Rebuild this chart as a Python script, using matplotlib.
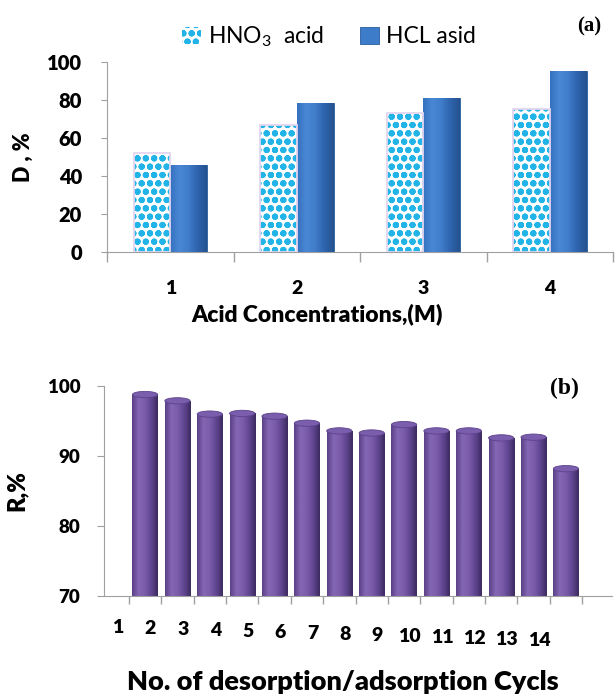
import numpy as np
import matplotlib
matplotlib.use('Agg')
import matplotlib.pyplot as plt
from matplotlib.transforms import blended_transform_factory
from matplotlib.colors import LinearSegmentedColormap
from matplotlib.patches import Ellipse

plt.rcParams['font.family'] = ['Lato', 'DejaVu Sans']
plt.rcParams['mathtext.fontset'] = 'custom'
plt.rcParams['mathtext.rm'] = 'Lato'
plt.rcParams['hatch.linewidth'] = 2.1

# ---- data (a)
conc = [1, 2, 3, 4]
conc_labels = ['1', '2', '3', '4']
hno3 = [52, 67, 73, 75]
hcl = [46, 78.5, 81, 95]
# ---- data (b)
cycles = list(range(1, 15))
cycle_labels = [str(c) for c in cycles]
recovery = [98.8, 97.9, 96.0, 96.1, 95.7, 94.7, 93.6, 93.3, 94.5, 93.6, 93.6, 92.6, 92.7, 88.2]

W = 'heavy'

fig = plt.figure(figsize=(6.15, 6.97), dpi=100)

grad = np.linspace(0, 1, 128).reshape(1, -1)


def shade(ax, patches, cmap):
    for p in patches:
        x0, y0 = p.get_x(), p.get_y()
        w, h = p.get_width(), p.get_height()
        im = ax.imshow(grad, extent=[x0, x0 + w, y0, y0 + h], cmap=cmap,
                       aspect='auto', zorder=p.get_zorder() + 0.1,
                       interpolation='bicubic')
        im.set_clip_path(p)


blue_cmap = LinearSegmentedColormap.from_list(
    'blue', ['#3470BD', '#4A88D6', '#3F7CC9', '#2E63AD', '#24528F'])
purple_cmap = LinearSegmentedColormap.from_list(
    'purple', ['#5A3F85', '#8466B5', '#7A5CAB', '#5F4590', '#3C2A5E'])

# ================= (a) =================
ax1 = fig.add_axes([0.174, 0.6385, 0.823, 0.2726])
x = np.array(conc, dtype=float)
w = 0.29
b_h = ax1.bar(x - w / 2, hno3, w, facecolor='white', edgecolor='#22B4E6',
              hatch='oo', linewidth=0, zorder=2, label=r'HNO$_\mathregular{3}$  acid')
ax1.bar(x - w / 2, hno3, w, facecolor='none', edgecolor='#E2D6F0',
        linewidth=1.3, zorder=3)
b_c = ax1.bar(x + w / 2, hcl, w, color='#3D7CC9', edgecolor='#2A5C9E',
              linewidth=0.6, zorder=2, label='HCL asid')
shade(ax1, b_c.patches, blue_cmap)

ax1.set_xlim(0.5, 4.5)
ax1.set_ylim(0, 100)
ax1.set_yticks([0, 20, 40, 60, 80, 100])
ax1.set_xticks(x)
ax1.set_xticklabels(conc_labels, fontsize=14, fontweight=W)
ax1.set_xticks(np.arange(0.5, 4.6, 1.0), minor=True)
ax1.tick_params(axis='x', which='major', length=0, pad=20)
ax1.tick_params(axis='x', which='minor', length=7, color='#A0A0A0', width=1)
ax1.tick_params(axis='y', length=4, color='#A0A0A0', pad=14, labelsize=14.5)
for t in ax1.get_yticklabels():
    t.set_fontweight(W)
for s in ['top', 'right']:
    ax1.spines[s].set_visible(False)
for s in ['left', 'bottom']:
    ax1.spines[s].set_color('#A0A0A0')
ax1.set_ylabel('D , %', fontsize=15.5, fontweight=W)
ax1.yaxis.set_label_coords(-0.145, 0.5)
ax1.set_xlabel('Acid Concentrations,(M)', fontsize=16.5, fontweight=W)
ax1.xaxis.set_label_coords(0.415, -0.27)
leg = fig.legend(handles=[b_h, b_c], loc='center', bbox_to_anchor=(0.535, 0.947),
                 ncol=2, frameon=False, fontsize=16.5, handlelength=0.8,
                 handleheight=0.8, handletextpad=0.3, columnspacing=1.6)
fig.text(0.958, 0.962, '(a)', family='Liberation Serif', fontweight='bold',
         fontsize=15, ha='center', va='center')

# ================= (b) =================
ax2 = fig.add_axes([0.169, 0.145, 0.826, 0.301])
xc = np.array(cycles, dtype=float)
bw = 0.78
bars = ax2.bar(xc, [r - 70 for r in recovery], bw, bottom=70,
               color='#7356A3', linewidth=0, zorder=2)
shade(ax2, bars.patches, purple_cmap)
for p in bars.patches:
    ax2.add_patch(Ellipse((p.get_x() + p.get_width() / 2, p.get_y() + p.get_height()),
                          p.get_width(), 0.9, facecolor='#7A5DAC',
                          edgecolor='#5C428A', linewidth=0.6, zorder=3))
ax2.set_xlim(-0.27, 15.42)
ax2.set_ylim(70, 100)
ax2.set_yticks([70, 80, 90, 100])
ax2.tick_params(axis='y', length=5, color='#A0A0A0', pad=12, labelsize=13.5)
for t in ax2.get_yticklabels():
    t.set_fontweight(W)
ax2.set_xticks([])
ax2.set_xticks(np.arange(0.5, 15.0, 1.0), minor=True)
ax2.tick_params(axis='x', which='minor', length=6, color='#A0A0A0', width=1,
                labelbottom=False)
for s in ['top', 'right']:
    ax2.spines[s].set_visible(False)
for s in ['left', 'bottom']:
    ax2.spines[s].set_color('#A0A0A0')
trans = blended_transform_factory(ax2.transData, ax2.transAxes)
n = len(cycles)
for i, (c, lab) in enumerate(zip(cycles, cycle_labels)):
    yy = -0.15 - 0.062 * i / (n - 1)
    ax2.text(c - 0.83, yy, lab, transform=trans, ha='center', va='center',
             fontsize=14, fontweight=W)
ax2.set_ylabel('R,%', fontsize=17, fontweight=W)
ax2.yaxis.set_label_coords(-0.15, 0.5)
ax2.set_xlabel('No. of desorption/adsorption Cycls', fontsize=19.5, fontweight=W)
ax2.xaxis.set_label_coords(0.47, -0.355)
fig.text(0.918, 0.443, '(b)', family='Liberation Serif', fontweight='bold',
         fontsize=17, ha='center', va='center')

fig.savefig('out.png', dpi=100)
